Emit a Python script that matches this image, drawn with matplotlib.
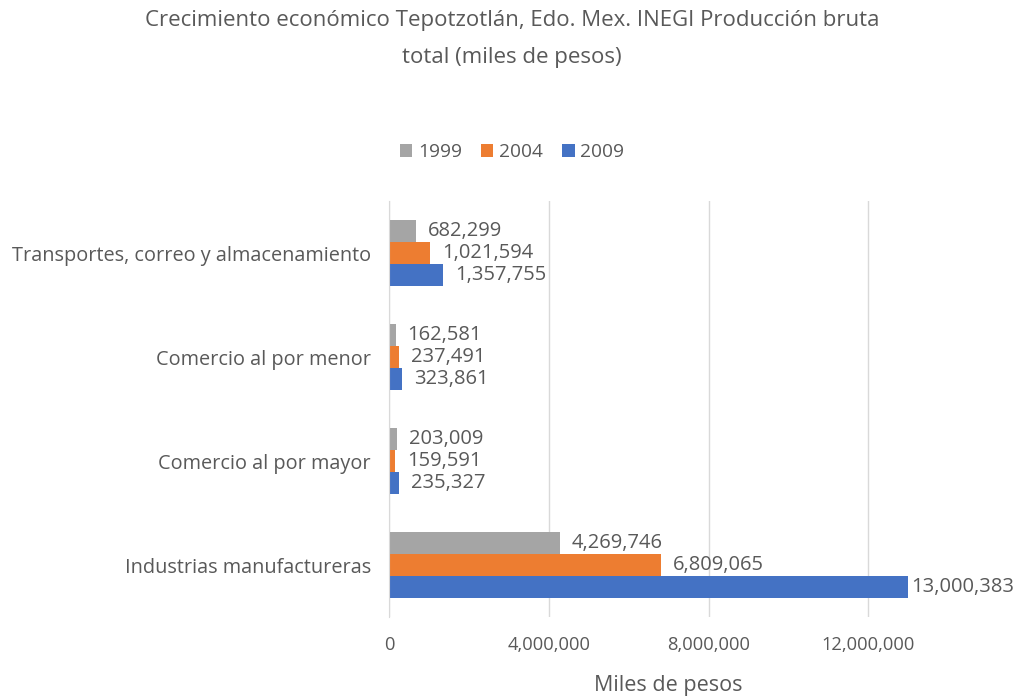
import numpy as np
import matplotlib.pyplot as plt
from matplotlib.ticker import FuncFormatter

categories = ["Industrias manufactureras", "Comercio al por mayor",
              "Comercio al por menor", "Transportes, correo y almacenamiento"]
v1999 = [4269746, 203009, 162581, 682299]
v2004 = [6809065, 159591, 237491, 1021594]
v2009 = [13000383, 235327, 323861, 1357755]

plt.rcParams['font.family'] = ['Open Sans', 'DejaVu Sans']
txt = "#595959"

fig = plt.figure(figsize=(10.24, 6.96), dpi=100)
ax = fig.add_axes([0.380, 0.1135, 0.546, 0.5975])

y = np.arange(len(categories))
h = 0.21
series = [("1999", v1999, "#A5A5A5", h), ("2004", v2004, "#ED7D31", 0), ("2009", v2009, "#4472C4", -h)]
for name, vals, col, off in series:
    ax.barh(y + off, vals, height=h, color=col, label=name, zorder=3)
    for yi, v in zip(y + off, vals):
        # la etiqueta más larga se recorre para no salirse del gráfico
        pad = 3 if v > 12000000 else 12
        ax.annotate(f"{v:,}", (v, yi), xytext=(pad, 0), textcoords="offset pixels",
                    ha="left", va="center", fontsize=14.5, color=txt)

ax.set_xlim(0, 14000000)
ax.set_ylim(-0.5, 3.5)
ax.set_xticks([0, 4000000, 8000000, 12000000])
ax.xaxis.set_major_formatter(FuncFormatter(lambda v, p: f"{int(v):,}"))
ax.set_yticks(y)
ax.set_yticklabels(categories)
ax.tick_params(length=0, labelcolor=txt)
ax.tick_params(axis='x', pad=14, labelsize=13.2)
ax.tick_params(axis='y', pad=13, labelsize=14.3)
ax.grid(axis='x', color="#D9D9D9", linewidth=1, zorder=0)
for s in ["top", "right", "bottom"]:
    ax.spines[s].set_visible(False)
ax.spines["left"].set_color("#D9D9D9")
ax.spines["left"].set_zorder(4)
ax.set_xlabel("Miles de pesos", fontsize=15.5, color=txt, labelpad=15)

fig.text(0.5, 0.986, "Crecimiento económico Tepotzotlán, Edo. Mex. INEGI Producción bruta\ntotal (miles de pesos)",
         ha="center", va="top", fontsize=16, color=txt, linespacing=2.0)

handles, labels = ax.get_legend_handles_labels()
fig.legend(handles, labels, loc="center", bbox_to_anchor=(0.5, 0.781), ncol=3,
           frameon=False, fontsize=13.8, labelcolor=txt, handlelength=0.65,
           handleheight=0.65, handletextpad=0.3, columnspacing=1.0)

fig.savefig("out.png", dpi=100)
